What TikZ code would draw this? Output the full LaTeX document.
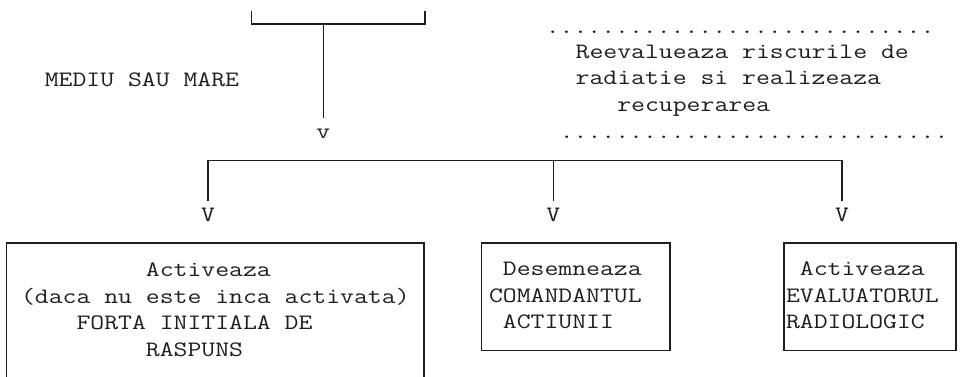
\documentclass[tikz,border=0pt]{standalone}
\usepackage{fontspec}
\newfontfamily\asciifont[FakeStretch=1.225]{Latin Modern Mono}
\definecolor{ink}{HTML}{1E1E1E}
\newlength\cw
\settowidth{\cw}{\asciifont\fontsize{22}{26.5}\selectfont M}

\begin{document}
\begin{tikzpicture}[x=1pt, y=-1pt,
    txt/.style={font={\asciifont\fontsize{22}{26.5}\selectfont}, text=ink, inner sep=0pt},
    tip/.style={txt, anchor=base},
    frame/.style={txt, draw=ink, line width=1.5pt, outer sep=0pt, inner ysep=0pt, anchor=north west},
    link/.style={draw=ink, line width=1.5pt}]

    \useasboundingbox (0, 0) rectangle (968, 376);

    \coordinate (upl) at (251.7, 11);
    \coordinate (upr) at (425, 11);
    \coordinate (upj) at (323.3, 24);
    \coordinate (split) at (553.3, 160.7);

    \node [tip] (vdown) at (323.3, 138) {v};
    \node [txt, anchor=base west] (size) at (44.6, 86) {MEDIU SAU MARE};
    \node [txt, anchor=base west] (dotsup) at (545.6, 33) {............................};
    \node [txt, anchor=north west, align=left] (recheck) at (575.5, 39.45)
        {\strut Reevalueaza riscurile de\\\strut radiatie si realizeaza\\\strut\hspace*{3\cw}recuperarea};
    \node [txt, anchor=base west] (dotsdown) at (559.6, 138) {............................};

    \node [tip] (vforce) at (208, 221.7) {V};
    \node [tip] (vcmd) at (553.3, 221.7) {V};
    \node [tip] (vrad) at (842, 221.7) {V};

    \node [frame, align=left, inner xsep=10.55pt, minimum width=417.3pt, minimum height=136pt] (force) at (6.7, 243)
        {\strut\hspace*{9\cw}Activeaza\\\strut(daca nu este inca activata)\\\strut\hspace*{4\cw}FORTA INITIALA DE\\\strut\hspace*{9\cw}RASPUNS};
    \node [frame, align=flush left, text width=173.5pt, inner xsep=7.5pt, minimum height=107.7pt] (cmd) at (481.5, 243)
        {\strut\hspace*{\cw}Desemneaza\\\strut COMANDANTUL\\\strut\hspace*{\cw}ACTIUNII};
    \node [frame, align=flush left, text width=168pt, inner xsep=2pt, minimum height=107.7pt] (rad) at (784, 243)
        {\strut\hspace*{\cw}Activeaza\\\strut EVALUATORUL\\\strut RADIOLOGIC};

    \draw [link] (upl) |- (upj) -| (upr);
    \draw [link, shorten >=10.5pt] (upj) -- (vdown);
    \draw [link, shorten <=7.3pt, shorten >=7.3pt] (vforce) |- (split) -| (vrad);
    \draw [link, shorten >=7.3pt] (split) -- (vcmd);

\end{tikzpicture}
\end{document}
